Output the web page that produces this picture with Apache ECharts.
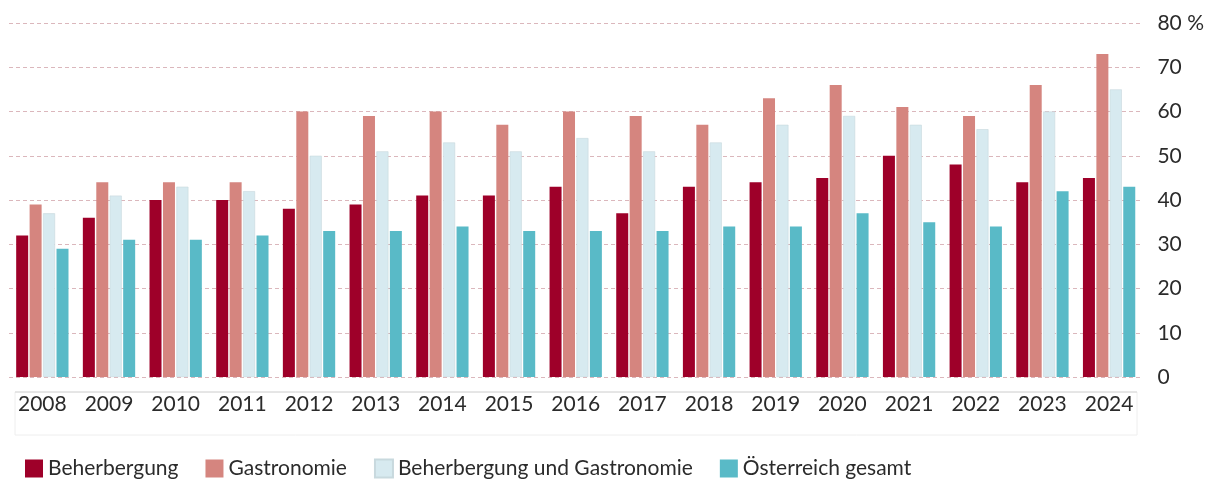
<!DOCTYPE html>
<html>
<head>
<meta charset="utf-8">
<script src="https://cdn.jsdelivr.net/npm/echarts@6/dist/echarts.min.js"></script>
<style>
  html, body { margin: 0; padding: 0; background: #fff; }
  #chart { width: 1207px; height: 480px; }
</style>
</head>
<body>
<div id="chart"></div>
<script>
// -----------------------------------------------------------------------------
// Data
// -----------------------------------------------------------------------------
const years = ["2008", "2009", "2010", "2011", "2012", "2013", "2014", "2015", "2016",
  "2017", "2018", "2019", "2020", "2021", "2022", "2023", "2024"];

const beherbergung = [32, 36, 40, 40, 38, 39, 41, 41, 43, 37, 43, 44, 45, 50, 48, 44, 45];
const gastronomie = [39, 44, 44, 44, 60, 59, 60, 57, 60, 59, 57, 63, 66, 61, 59, 66, 73];
const beherbergungGastro = [37, 41, 43, 42, 50, 51, 53, 51, 54, 51, 53, 57, 59, 57, 56, 60, 65];
const oesterreich = [29, 31, 31, 32, 33, 33, 34, 33, 33, 33, 34, 34, 37, 35, 34, 42, 43];

const seriesNames = ["Beherbergung", "Gastronomie", "Beherbergung und Gastronomie", "Österreich gesamt"];
const colors = ["#9e0029", "#d5857f", "#d7eaf0", "#59bac7"];

// -----------------------------------------------------------------------------
// Chart
// -----------------------------------------------------------------------------
const FONT = "Lato";
const chart = echarts.init(document.getElementById("chart"), null, { renderer: "canvas" });

const makeBar = (name, data, i) => ({
  name,
  type: "bar",
  data,
  barWidth: 12,
  barGap: "12%",
  itemStyle: {
    color: colors[i],
    borderColor: i === 2 ? "#c8d9de" : colors[i],
    borderWidth: i === 2 ? 0.6 : 0,
  },
});

const option = {
  backgroundColor: "#fff",
  animation: false,
  textStyle: { fontFamily: FONT },
  grid: { left: 9, right: 62, top: 23, bottom: 103 },
  legend: {
    left: 20,
    top: 453,
    itemWidth: 18,
    itemHeight: 18,
    itemGap: 27,
    icon: "rect",
    textStyle: { fontFamily: FONT, fontSize: 21, color: "#2b2b2b", padding: [0, 0, 0, 0] },
    data: seriesNames,
  },
  xAxis: {
    type: "category",
    data: years,
    axisLine: { show: false },
    axisTick: { show: false },
    axisLabel: { fontFamily: FONT, fontSize: 21, color: "#2b2b2b", margin: 17 },
  },
  yAxis: {
    type: "value",
    position: "right",
    min: 0,
    max: 80,
    interval: 10,
    axisLine: { show: false },
    axisTick: { show: false },
    axisLabel: {
      fontFamily: FONT,
      fontSize: 21,
      color: "#2b2b2b",
      margin: 15,
      formatter: (v) => (v === 80 ? "80 %" : String(v)),
    },
    splitLine: { lineStyle: { color: "#dbb7bc", type: [4, 3], width: 1.2 } },
  },
  graphic: [
    // light frame under the category labels
    {
      type: "rect",
      shape: { x: 15, y: 392, width: 1122, height: 43 },
      style: { fill: "none", stroke: "#eeeeee", lineWidth: 1 },
      silent: true,
    },
    {
      type: "line",
      shape: { x1: 15, y1: 392, x2: 1137, y2: 392 },
      style: { stroke: "#d4d4d4", lineWidth: 1 },
      silent: true,
    },
  ],
  series: [
    makeBar(seriesNames[0], beherbergung, 0),
    makeBar(seriesNames[1], gastronomie, 1),
    makeBar(seriesNames[2], beherbergungGastro, 2),
    makeBar(seriesNames[3], oesterreich, 3),
  ],
};

chart.setOption(option);
</script>
</body>
</html>
